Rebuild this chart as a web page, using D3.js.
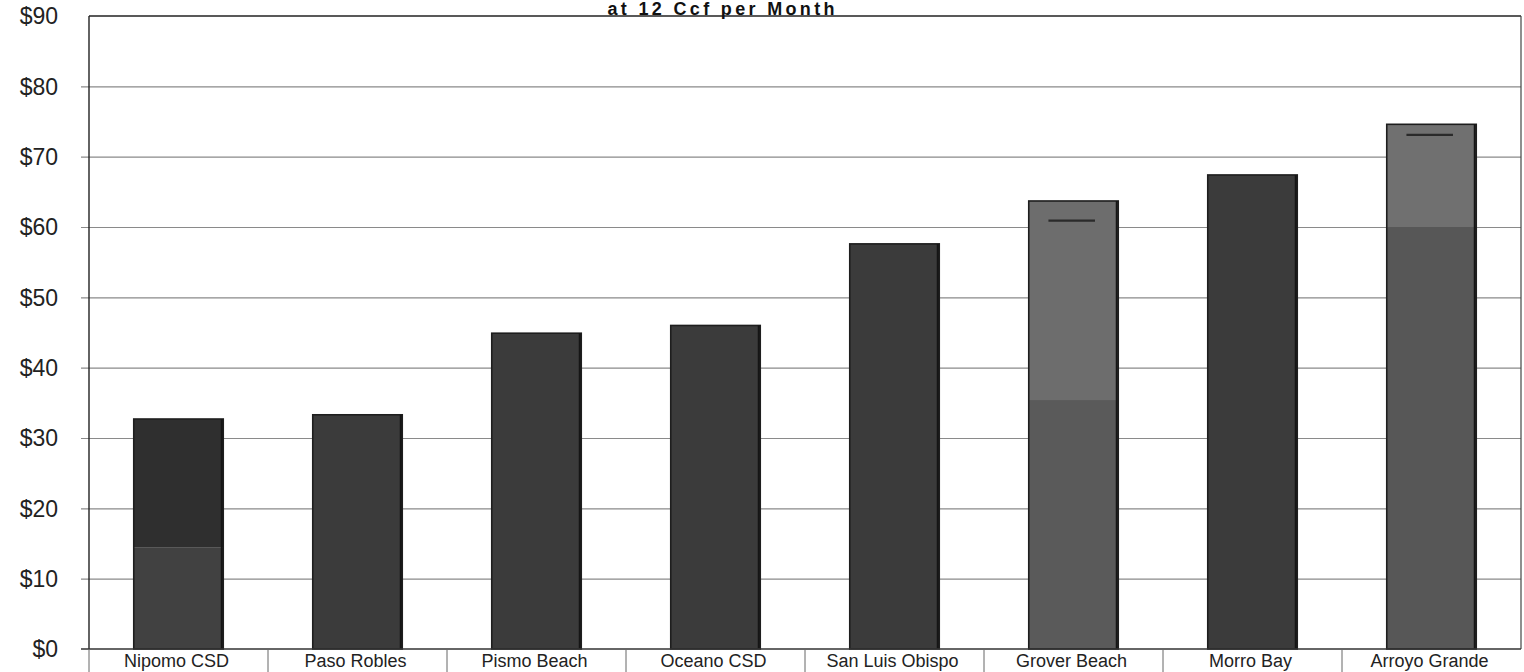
<!DOCTYPE html>
<html>
<head>
<meta charset="utf-8">
<script src="https://cdn.jsdelivr.net/npm/d3@7"></script>
<style>
  html, body { margin: 0; padding: 0; background: #fff; }
  svg { display: block; }
</style>
</head>
<body>
<svg id="chart" width="1524" height="672"></svg>
<script>
// Monthly water bill at 12 Ccf, by agency
const categories = ["Nipomo CSD", "Paso Robles", "Pismo Beach", "Oceano CSD",
                    "San Luis Obispo", "Grover Beach", "Morro Bay", "Arroyo Grande"];
// lower segment of each bar ($)
const lowerValues = [14.4, 33.3, 44.9, 46.0, 57.6, 35.4, 67.4, 60.0];
// upper segment stacked on top ($)
const upperValues = [18.3, 0, 0, 0, 0, 28.3, 0, 14.6];
// short reference marks drawn inside some bars ($)
const markerValues = [null, null, null, null, null, 60.9, null, 73.1];
const yTicks = [0, 10, 20, 30, 40, 50, 60, 70, 80, 90];
const titleText = "at 12 Ccf per Month";

// segment fills per bar
const lowerFill = ["#414141", "#3b3b3b", "#3b3b3b", "#3b3b3b", "#3b3b3b", "#5a5a5a", "#3b3b3b", "#575757"];
const upperFill = ["#2f2f2f", "#3b3b3b", "#3b3b3b", "#3b3b3b", "#3b3b3b", "#6d6d6d", "#3b3b3b", "#707070"];

const svg = d3.select("#chart");
const plotLeft = 89, plotRight = 1521, plotTop = 16, plotBottom = 649;

const x = d3.scaleBand().domain(categories).range([plotLeft, plotRight]).paddingInner(0.5).paddingOuter(0.25);
const xSep = d3.scaleBand().domain(categories).range([plotLeft, plotRight]);
const y = d3.scaleLinear().domain([0, 90]).range([plotBottom, plotTop]);

// gridlines with small tick stubs left of the axis
svg.append("g").selectAll("line").data(yTicks.filter(d => d > 0 && d < 90)).join("line")
  .attr("x1", plotLeft - 8).attr("x2", plotRight)
  .attr("y1", d => y(d) + 0.5).attr("y2", d => y(d) + 0.5)
  .attr("stroke", "#8a8a8a").attr("stroke-width", 1.1);

// y tick labels
svg.append("g").selectAll("text").data(yTicks).join("text")
  .attr("x", 58).attr("y", d => y(d))
  .attr("dy", "0.36em")
  .attr("text-anchor", "end")
  .attr("font-family", "Liberation Sans, Arial, sans-serif")
  .attr("font-size", 23)
  .attr("fill", "#222")
  .text(d => "$" + d);

// bars
const bars = svg.append("g").selectAll("g").data(categories).join("g");
bars.append("rect")
  .attr("x", d => x(d)).attr("width", x.bandwidth())
  .attr("y", (d, i) => y(lowerValues[i]))
  .attr("height", (d, i) => y(0) - y(lowerValues[i]))
  .attr("fill", (d, i) => lowerFill[i]);
bars.filter((d, i) => upperValues[i] > 0).append("rect")
  .attr("x", d => x(d)).attr("width", x.bandwidth())
  .attr("y", d => { const i = categories.indexOf(d); return y(lowerValues[i] + upperValues[i]); })
  .attr("height", d => { const i = categories.indexOf(d); return y(lowerValues[i]) - y(lowerValues[i] + upperValues[i]); })
  .attr("fill", d => upperFill[categories.indexOf(d)]);
// outline around the whole stack
bars.append("rect")
  .attr("x", d => x(d)).attr("width", x.bandwidth())
  .attr("y", (d, i) => y(lowerValues[i] + upperValues[i]))
  .attr("height", (d, i) => y(0) - y(lowerValues[i] + upperValues[i]))
  .attr("fill", "none").attr("stroke", "#1e1e1e").attr("stroke-width", 1.6);
// darker right edge
bars.append("line")
  .attr("x1", d => x(d) + x.bandwidth() - 1.5).attr("x2", d => x(d) + x.bandwidth() - 1.5)
  .attr("y1", (d, i) => y(lowerValues[i] + upperValues[i]))
  .attr("y2", y(0))
  .attr("stroke", "#151515").attr("stroke-width", 2);

// reference marks
bars.filter((d, i) => markerValues[i] != null).append("line")
  .attr("x1", d => x(d) + x.bandwidth() * 0.22)
  .attr("x2", d => x(d) + x.bandwidth() * 0.74)
  .attr("y1", d => y(markerValues[categories.indexOf(d)]))
  .attr("y2", d => y(markerValues[categories.indexOf(d)]))
  .attr("stroke", "#2a2a2a").attr("stroke-width", 2.2);

// plot frame
svg.append("line").attr("x1", plotLeft).attr("x2", plotRight).attr("y1", plotTop).attr("y2", plotTop)
  .attr("stroke", "#222").attr("stroke-width", 1.5);
svg.append("line").attr("x1", plotRight).attr("x2", plotRight).attr("y1", plotTop).attr("y2", plotBottom)
  .attr("stroke", "#444").attr("stroke-width", 1.2);
svg.append("line").attr("x1", plotLeft).attr("x2", plotLeft).attr("y1", plotTop).attr("y2", plotBottom)
  .attr("stroke", "#222").attr("stroke-width", 1.4);
svg.append("line").attr("x1", plotLeft - 8).attr("x2", plotRight).attr("y1", plotBottom).attr("y2", plotBottom)
  .attr("stroke", "#333").attr("stroke-width", 1.5);

// category separators below the axis
svg.append("g").selectAll("line").data(categories.slice(1)).join("line")
  .attr("x1", d => xSep(d)).attr("x2", d => xSep(d))
  .attr("y1", plotBottom).attr("y2", 672)
  .attr("stroke", "#666").attr("stroke-width", 1);
svg.append("line").attr("x1", plotLeft).attr("x2", plotLeft).attr("y1", plotBottom).attr("y2", 672)
  .attr("stroke", "#666").attr("stroke-width", 1);

// category labels
svg.append("g").selectAll("text").data(categories).join("text")
  .attr("x", d => xSep(d) + xSep.bandwidth() / 2 - 2)
  .attr("y", 667)
  .attr("text-anchor", "middle")
  .attr("font-family", "Liberation Sans, Arial, sans-serif")
  .attr("font-size", 18)
  .attr("fill", "#222")
  .text(d => d);

// title
svg.append("text")
  .attr("x", 721).attr("y", 15)
  .attr("text-anchor", "middle")
  .attr("font-family", "Liberation Sans, Arial, sans-serif")
  .attr("font-weight", "bold")
  .attr("font-size", 18)
  .attr("textLength", 227)
  .attr("fill", "#111")
  .text(titleText);
</script>
</body>
</html>
